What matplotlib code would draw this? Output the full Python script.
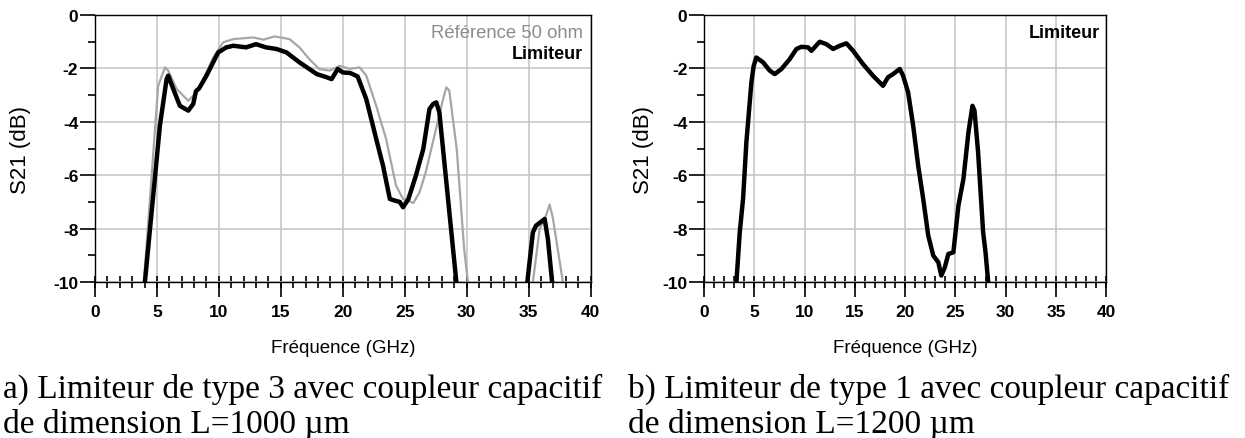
import numpy as np
import matplotlib.pyplot as plt
from matplotlib.ticker import MultipleLocator

# --- data ---
# a) type 3 limiter, reference 50 ohm line (grey)
ref_a_f = [3.95, 5.1, 5.65, 5.91, 6.59, 7.53, 8.2, 9.0, 9.54, 10.35, 11.16, 12.77, 13.6, 14.5,
           15.7, 16.5, 17.3, 18.1, 18.95, 19.76, 20.56, 21.37, 21.9, 22.7, 23.5, 24.3, 24.87,
           25.7, 26.2, 26.7, 27.4, 28.1, 28.36, 28.6, 29.2, 29.8, 30.1]
ref_a_db = [-10, -2.65, -1.96, -2.08, -2.77, -3.21, -2.9, -2.15, -1.59, -1.02, -0.9, -0.84, -0.92, -0.8,
            -0.9, -1.21, -1.65, -2.02, -2.08, -1.9, -2.02, -1.96, -2.27, -3.4, -4.64, -6.39, -6.89,
            -7.04, -6.64, -5.89, -4.52, -3.15, -2.71, -2.83, -5.02, -8.76, -10]
ref_a_f2 = [35.35, 35.9, 36.4, 36.7, 36.96, 37.77]
ref_a_db2 = [-10, -8.0, -7.52, -7.1, -7.6, -10]

# a) limiter (black)
lim_a_f = [4.03, 5.24, 5.78, 5.91, 6.32, 6.85, 7.53, 7.93, 8.15, 8.4, 9.0, 9.54, 9.95, 10.6, 11.16,
           12.2, 13.0, 13.8, 14.65, 15.46, 16.5, 17.3, 17.9, 18.7, 19.1, 19.6, 20.0, 20.6, 21.2,
           21.9, 22.7, 23.25, 23.8, 24.2, 24.6, 24.87, 25.3, 25.9, 26.5, 27.0, 27.3, 27.55, 27.8, 29.17]
lim_a_db = [-10, -4.14, -2.4, -2.27, -2.77, -3.4, -3.58, -3.33, -2.85, -2.75, -2.27, -1.77, -1.4, -1.21, -1.15,
            -1.21, -1.09, -1.21, -1.27, -1.4, -1.77, -2.02, -2.21, -2.33, -2.4, -2.02, -2.15, -2.17, -2.3,
            -3.15, -4.64, -5.64, -6.89, -6.95, -7.0, -7.2, -6.89, -6.02, -5.02, -3.52, -3.33, -3.27, -3.65, -10]
lim_a_f2 = [34.9, 35.35, 35.6, 36.3, 36.56, 36.9]
lim_a_db2 = [-10, -8.14, -7.89, -7.64, -8.39, -10]

# b) type 1 limiter (black)
lim_b_f = [3.22, 3.55, 3.88, 4.21, 4.71, 4.94, 5.2, 5.87, 6.53, 7.03, 7.7, 8.52, 9.19, 9.68, 10.35,
           10.68, 11.5, 12.17, 12.84, 13.5, 14.16, 14.83, 15.82, 16.8, 17.8, 18.3, 18.8, 19.47, 19.8,
           20.3, 20.8, 21.3, 21.8, 22.3, 22.8, 23.3, 23.6, 23.95, 24.3, 24.8, 25.3, 25.8, 26.3, 26.7,
           26.9, 27.26, 27.76, 28.0, 28.26]
lim_b_db = [-10, -8.14, -6.89, -4.77, -2.52, -1.9, -1.59, -1.77, -2.08, -2.21, -2.02, -1.65, -1.27, -1.19, -1.21,
            -1.34, -1.0, -1.09, -1.27, -1.15, -1.06, -1.34, -1.84, -2.27, -2.65, -2.33, -2.21, -2.02, -2.27,
            -2.9, -4.14, -5.64, -6.89, -8.26, -9.01, -9.26, -9.76, -9.45, -8.95, -8.89, -7.14, -6.14, -4.39, -3.4,
            -3.58, -5.14, -8.14, -8.89, -10]

xticks = [0, 5, 10, 15, 20, 25, 30, 35, 40]
yticks = [0, -2, -4, -6, -8, -10]

plt.rcParams['font.family'] = 'Liberation Sans'
plt.rcParams['axes.unicode_minus'] = False

fig = plt.figure(figsize=(12.45, 4.39), dpi=100)
ax1 = fig.add_axes([0.0763, 0.3554, 0.398, 0.608])
ax2 = fig.add_axes([0.5655, 0.3554, 0.323, 0.608])

grey = '#a6a6a6'


def style(ax):
    ax.set_xlim(0, 40)
    ax.set_ylim(-10, 0)
    ax.set_xticks(xticks)
    ax.set_yticks(yticks)
    ax.xaxis.set_minor_locator(MultipleLocator(1))
    ax.yaxis.set_minor_locator(MultipleLocator(1))
    ax.xaxis.remove_overlapping_locs = False
    ax.grid(True, which='major', color='#c8c8c8', lw=1.2)
    ax.set_axisbelow(True)
    ax.tick_params(axis='x', which='major', direction='out', length=11, width=1.2, pad=5)
    ax.tick_params(axis='x', which='minor', direction='inout', length=8.6, width=1.2)
    ax.tick_params(axis='y', which='major', direction='out', length=11, width=1.2, pad=1)
    ax.tick_params(axis='y', which='minor', direction='out', length=5, width=1.2)
    for lab in ax.get_xticklabels() + ax.get_yticklabels():
        lab.set_fontweight('bold')
        lab.set_fontsize(12.5)
    for s in ax.spines.values():
        s.set_linewidth(1.0)


ax1.plot(ref_a_f, ref_a_db, color=grey, lw=1.6)
ax1.plot(ref_a_f2, ref_a_db2, color=grey, lw=1.6)
ax1.plot(lim_a_f, lim_a_db, color='black', lw=3.2)
ax1.plot(lim_a_f2, lim_a_db2, color='black', lw=3.2)
style(ax1)
ax1.text(0.985, 0.935, 'Référence 50 ohm', transform=ax1.transAxes, ha='right', va='center',
         color='#8c8c8c', fontsize=13.3)
ax1.text(0.985, 0.855, 'Limiteur', transform=ax1.transAxes, ha='right', va='center',
         color='black', fontsize=13, fontweight='bold')

ax2.plot(lim_b_f, lim_b_db, color='black', lw=3.2)
style(ax2)
ax2.text(0.985, 0.935, 'Limiteur', transform=ax2.transAxes, ha='right', va='center',
         color='black', fontsize=13, fontweight='bold')

for xc in (21, 643):
    fig.text(xc / 1245, 1 - 150 / 439, 'S21 (dB)', rotation=90, ha='center', va='center', fontsize=16)
for xc in (343, 905):
    fig.text(xc / 1245, 1 - 349 / 439, 'Fréquence (GHz)', ha='center', va='center', fontsize=13.5)

cap = dict(fontsize=24, family='Liberation Serif', va='baseline', ha='left')
fig.text(3 / 1245, 1 - 398 / 439, 'a) Limiteur de type 3 avec coupleur capacitif', **cap)
fig.text(3 / 1245, 1 - 433 / 439, 'de dimension L=1000 µm', **cap)
fig.text(628 / 1245, 1 - 398 / 439, 'b) Limiteur de type 1 avec coupleur capacitif', **cap)
fig.text(628 / 1245, 1 - 433 / 439, 'de dimension L=1200 µm', **cap)

fig.savefig('out.png', dpi=100)
